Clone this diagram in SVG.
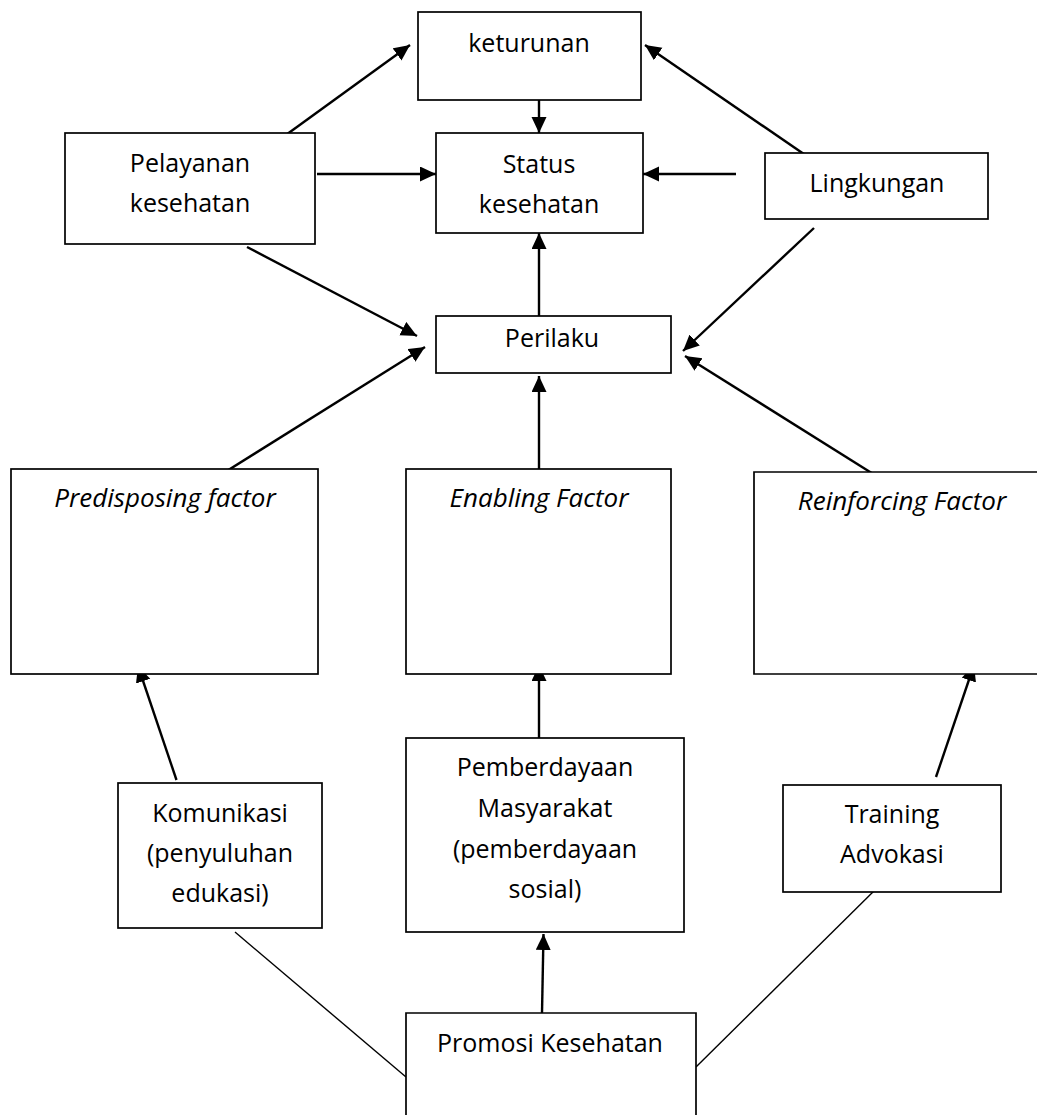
<svg xmlns="http://www.w3.org/2000/svg" width="1037" height="1115" viewBox="0 0 1037 1115">
<style>
.box{fill:#fff;stroke:#000;stroke-width:1.7}
.t{font-family:"Open Sans","Liberation Sans",sans-serif;font-size:25px;fill:#000;text-anchor:middle}
.i{font-style:italic;font-size:26px}
.a{stroke:#000;stroke-width:2.4;fill:none;marker-end:url(#ah)}
.l{stroke:#000;stroke-width:1.4;fill:none}
</style>
<defs>
<marker id="ah" markerUnits="userSpaceOnUse" markerWidth="18" markerHeight="16" refX="16" refY="7.5" orient="auto">
<path d="M0,0 L16,7.5 L0,15 Z" fill="#000"/>
</marker>
</defs>
<rect width="1037" height="1115" fill="#fff"/>
<g id="connectors">
<line class="a" x1="279" y1="140" x2="410" y2="45"/>
<line class="a" x1="539" y1="100" x2="539" y2="133"/>
<line class="a" x1="814" y1="161" x2="645" y2="45"/>
<line class="a" x1="317" y1="174" x2="436" y2="174"/>
<line class="a" x1="736" y1="174" x2="643" y2="174"/>
<line class="a" x1="539" y1="316" x2="539" y2="233"/>
<line class="a" x1="247" y1="247" x2="417" y2="336"/>
<line class="a" x1="814" y1="228" x2="683" y2="351"/>
<line class="a" x1="214" y1="479" x2="425" y2="347"/>
<line class="a" x1="539" y1="476" x2="539" y2="376"/>
<line class="a" x1="878" y1="477" x2="685" y2="356"/>
<line class="a" x1="176.5" y1="780" x2="138" y2="666"/>
<line class="a" x1="539" y1="745" x2="539" y2="665"/>
<line class="a" x1="936" y1="777" x2="974" y2="665"/>
<line class="a" x1="542" y1="1013" x2="543.5" y2="934"/>
<line class="l" x1="235" y1="932" x2="406" y2="1077"/>
<line class="l" x1="880" y1="885" x2="696" y2="1067"/>
</g>
<g id="keturunan">
<rect class="box" x="418" y="12" width="223" height="88"/>
<text class="t" x="529" y="52">keturunan</text>
</g>
<g id="status">
<rect class="box" x="436" y="133" width="207" height="100"/>
<text class="t" x="539" y="173">Status</text>
<text class="t" x="539" y="213">kesehatan</text>
</g>
<g id="pelayanan">
<rect class="box" x="65" y="133" width="250" height="111"/>
<text class="t" x="190" y="172">Pelayanan</text>
<text class="t" x="190" y="212">kesehatan</text>
</g>
<g id="lingkungan">
<rect class="box" x="765" y="153" width="223" height="66"/>
<text class="t" x="877" y="192">Lingkungan</text>
</g>
<g id="perilaku">
<rect class="box" x="436" y="316" width="235" height="57"/>
<text class="t" x="552" y="347">Perilaku</text>
</g>
<g id="predisposing">
<rect class="box" x="11" y="469" width="307" height="205"/>
<text class="t i" x="165" y="507">Predisposing factor</text>
</g>
<g id="enabling">
<rect class="box" x="406" y="469" width="265" height="205"/>
<text class="t i" x="539" y="507">Enabling Factor</text>
</g>
<g id="reinforcing">
<path class="box" d="M1040,472 H754 V674 H1040"/>
<text class="t i" x="902" y="510">Reinforcing Factor</text>
</g>
<g id="komunikasi">
<rect class="box" x="118" y="783" width="204" height="145"/>
<text class="t" x="220" y="822">Komunikasi</text>
<text class="t" x="220" y="862">(penyuluhan</text>
<text class="t" x="220" y="902">edukasi)</text>
</g>
<g id="pemberdayaan">
<rect class="box" x="406" y="738" width="278" height="194"/>
<text class="t" x="545" y="776">Pemberdayaan</text>
<text class="t" x="545" y="817">Masyarakat</text>
<text class="t" x="545" y="858">(pemberdayaan</text>
<text class="t" x="545" y="898">sosial)</text>
</g>
<g id="training">
<rect class="box" x="783" y="785" width="218" height="107"/>
<text class="t" x="892" y="823">Training</text>
<text class="t" x="892" y="863">Advokasi</text>
</g>
<g id="promosi">
<path class="box" d="M406,1118 V1013 H696 V1118"/>
<text class="t" x="550" y="1052">Promosi Kesehatan</text>
</g>
</svg>
